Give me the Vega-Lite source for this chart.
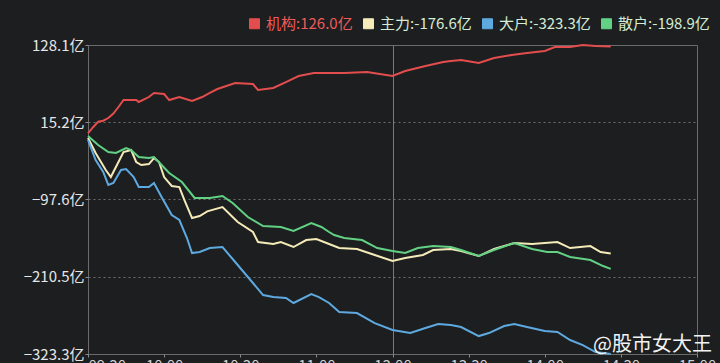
{
  "$schema": "https://vega.github.io/schema/vega-lite/v6.json",
  "width": 609,
  "height": 309,
  "autosize": {"type": "none"},
  "padding": {"left": 88, "top": 45, "right": 23, "bottom": 9},
  "background": "#1c1e1f",
  "config": {
    "view": {"stroke": "#6b6b6b", "strokeWidth": 1},
    "font": "Noto Sans CJK SC"
  },
  "datasets": {
    "flows": [
      {"s": "机构", "m": 0, "v": -0.9}, {"s": "机构", "m": 2, "v": 8}, {"s": "机构", "m": 4, "v": 16.0}, {"s": "机构", "m": 6, "v": 17.5}, {"s": "机构", "m": 8, "v": 21.4}, {"s": "机构", "m": 10, "v": 28}, {"s": "机构", "m": 12, "v": 37.5}, {"s": "机构", "m": 14, "v": 47.7}, {"s": "机构", "m": 19, "v": 47.7}, {"s": "机构", "m": 20, "v": 44.8}, {"s": "机构", "m": 24, "v": 52.1}, {"s": "机构", "m": 26, "v": 58.0}, {"s": "机构", "m": 30, "v": 56.5}, {"s": "机构", "m": 32, "v": 47.7}, {"s": "机构", "m": 36, "v": 52.1}, {"s": "机构", "m": 41, "v": 46.3}, {"s": "机构", "m": 45, "v": 52.1}, {"s": "机构", "m": 48, "v": 58.0}, {"s": "机构", "m": 51, "v": 63.8}, {"s": "机构", "m": 58, "v": 72.6}, {"s": "机构", "m": 65, "v": 71.1}, {"s": "机构", "m": 67, "v": 62.4}, {"s": "机构", "m": 73, "v": 65.3}, {"s": "机构", "m": 78, "v": 74.0}, {"s": "机构", "m": 83, "v": 82.8}, {"s": "机构", "m": 89, "v": 87.2}, {"s": "机构", "m": 95, "v": 87.2}, {"s": "机构", "m": 101, "v": 87.2}, {"s": "机构", "m": 110, "v": 88.7}, {"s": "机构", "m": 115, "v": 85.7}, {"s": "机构", "m": 120, "v": 82.8}, {"s": "机构", "m": 125, "v": 90.1}, {"s": "机构", "m": 133, "v": 97.4}, {"s": "机构", "m": 140, "v": 103.3}, {"s": "机构", "m": 143, "v": 104.7}, {"s": "机构", "m": 147, "v": 106.2}, {"s": "机构", "m": 154, "v": 101.8}, {"s": "机构", "m": 160, "v": 109.1}, {"s": "机构", "m": 167, "v": 113.5}, {"s": "机构", "m": 173, "v": 116.4}, {"s": "机构", "m": 180, "v": 119.3}, {"s": "机构", "m": 184, "v": 125.2}, {"s": "机构", "m": 190, "v": 125.2}, {"s": "机构", "m": 195, "v": 128.1}, {"s": "机构", "m": 200, "v": 126.8}, {"s": "机构", "m": 206, "v": 126.0},

      {"s": "主力", "m": 0, "v": -7.8}, {"s": "主力", "m": 3, "v": -29.7}, {"s": "主力", "m": 7, "v": -54.5}, {"s": "主力", "m": 9, "v": -64.8}, {"s": "主力", "m": 11, "v": -50.1}, {"s": "主力", "m": 14, "v": -28.2}, {"s": "主力", "m": 17, "v": -25.3}, {"s": "主力", "m": 19, "v": -42.8}, {"s": "主力", "m": 21, "v": -47.2}, {"s": "主力", "m": 24, "v": -45.8}, {"s": "主力", "m": 26, "v": -37.0}, {"s": "主力", "m": 28, "v": -42.8}, {"s": "主力", "m": 30, "v": -64.8}, {"s": "主力", "m": 33, "v": -77.9}, {"s": "主力", "m": 36, "v": -79.4}, {"s": "主力", "m": 38, "v": -98.4}, {"s": "主力", "m": 41, "v": -124.7}, {"s": "主力", "m": 44, "v": -121.7}, {"s": "主力", "m": 47, "v": -115.0}, {"s": "主力", "m": 53, "v": -108.6}, {"s": "主力", "m": 59, "v": -130.5}, {"s": "主力", "m": 65, "v": -145.1}, {"s": "主力", "m": 67, "v": -159.7}, {"s": "主力", "m": 73, "v": -162.6}, {"s": "主力", "m": 76, "v": -159.7}, {"s": "主力", "m": 81, "v": -167.0}, {"s": "主力", "m": 86, "v": -156.8}, {"s": "主力", "m": 90, "v": -155.3}, {"s": "主力", "m": 95, "v": -162.6}, {"s": "主力", "m": 99, "v": -168.5}, {"s": "主力", "m": 106, "v": -170.0}, {"s": "主力", "m": 113, "v": -178.7}, {"s": "主力", "m": 120, "v": -187.5}, {"s": "主力", "m": 125, "v": -183.1}, {"s": "主力", "m": 132, "v": -178.7}, {"s": "主力", "m": 136, "v": -171.4}, {"s": "主力", "m": 143, "v": -170.0}, {"s": "主力", "m": 147, "v": -172.9}, {"s": "主力", "m": 154, "v": -180.2}, {"s": "主力", "m": 160, "v": -170.0}, {"s": "主力", "m": 168, "v": -161.2}, {"s": "主力", "m": 175, "v": -162.6}, {"s": "主力", "m": 180, "v": -161.2}, {"s": "主力", "m": 185, "v": -159.7}, {"s": "主力", "m": 190, "v": -168.5}, {"s": "主力", "m": 198, "v": -165.6}, {"s": "主力", "m": 202, "v": -174.3}, {"s": "主力", "m": 206, "v": -176.6},

      {"s": "大户", "m": 0, "v": -10.7}, {"s": "大户", "m": 3, "v": -39.9}, {"s": "大户", "m": 6, "v": -57.4}, {"s": "大户", "m": 8, "v": -76.4}, {"s": "大户", "m": 10, "v": -73.5}, {"s": "大户", "m": 13, "v": -54.5}, {"s": "大户", "m": 15, "v": -53.1}, {"s": "大户", "m": 18, "v": -64.8}, {"s": "大户", "m": 20, "v": -79.4}, {"s": "大户", "m": 24, "v": -79.4}, {"s": "大户", "m": 26, "v": -73.5}, {"s": "大户", "m": 29, "v": -94.0}, {"s": "大户", "m": 33, "v": -120.3}, {"s": "大户", "m": 36, "v": -127.6}, {"s": "大户", "m": 39, "v": -153.9}, {"s": "大户", "m": 41, "v": -175.8}, {"s": "大户", "m": 44, "v": -174.3}, {"s": "大户", "m": 48, "v": -168.5}, {"s": "大户", "m": 53, "v": -167.0}, {"s": "大户", "m": 58, "v": -188.9}, {"s": "大户", "m": 63, "v": -210.8}, {"s": "大户", "m": 69, "v": -237.2}, {"s": "大户", "m": 73, "v": -240.1}, {"s": "大户", "m": 78, "v": -241.5}, {"s": "大户", "m": 81, "v": -248.8}, {"s": "大户", "m": 88, "v": -235.7}, {"s": "大户", "m": 91, "v": -240.1}, {"s": "大户", "m": 95, "v": -248.8}, {"s": "大户", "m": 99, "v": -262.0}, {"s": "大户", "m": 106, "v": -263.5}, {"s": "大户", "m": 113, "v": -278.1}, {"s": "大户", "m": 120, "v": -288.3}, {"s": "大户", "m": 127, "v": -292.7}, {"s": "大户", "m": 133, "v": -285.4}, {"s": "大户", "m": 138, "v": -279.5}, {"s": "大户", "m": 143, "v": -281.0}, {"s": "大户", "m": 147, "v": -283.9}, {"s": "大户", "m": 154, "v": -297.1}, {"s": "大户", "m": 158, "v": -292.7}, {"s": "大户", "m": 164, "v": -282.4}, {"s": "大户", "m": 168, "v": -279.5}, {"s": "大户", "m": 173, "v": -283.9}, {"s": "大户", "m": 180, "v": -289.8}, {"s": "大户", "m": 185, "v": -291.2}, {"s": "大户", "m": 190, "v": -302.9}, {"s": "大户", "m": 195, "v": -310.2}, {"s": "大户", "m": 200, "v": -320.4}, {"s": "大户", "m": 206, "v": -323.3},

      {"s": "散户", "m": 0, "v": -4.9}, {"s": "散户", "m": 4, "v": -18.0}, {"s": "散户", "m": 8, "v": -28.2}, {"s": "散户", "m": 11, "v": -29.7}, {"s": "散户", "m": 15, "v": -22.4}, {"s": "散户", "m": 17, "v": -25.3}, {"s": "散户", "m": 20, "v": -35.5}, {"s": "散户", "m": 24, "v": -37.0}, {"s": "散户", "m": 26, "v": -35.5}, {"s": "散户", "m": 29, "v": -47.2}, {"s": "散户", "m": 32, "v": -58.9}, {"s": "散户", "m": 37, "v": -72.1}, {"s": "散户", "m": 42, "v": -95.4}, {"s": "散户", "m": 48, "v": -95.4}, {"s": "散户", "m": 53, "v": -92.5}, {"s": "散户", "m": 57, "v": -102.7}, {"s": "散户", "m": 63, "v": -123.2}, {"s": "散户", "m": 69, "v": -136.3}, {"s": "散户", "m": 76, "v": -137.8}, {"s": "散户", "m": 81, "v": -143.6}, {"s": "散户", "m": 88, "v": -132.0}, {"s": "散户", "m": 92, "v": -137.8}, {"s": "散户", "m": 95, "v": -145.1}, {"s": "散户", "m": 97, "v": -149.5}, {"s": "散户", "m": 101, "v": -153.9}, {"s": "散户", "m": 108, "v": -156.8}, {"s": "散户", "m": 114, "v": -168.5}, {"s": "散户", "m": 120, "v": -172.9}, {"s": "散户", "m": 125, "v": -175.8}, {"s": "散户", "m": 130, "v": -168.5}, {"s": "散户", "m": 136, "v": -165.6}, {"s": "散户", "m": 143, "v": -167.0}, {"s": "散户", "m": 147, "v": -171.4}, {"s": "散户", "m": 154, "v": -180.2}, {"s": "散户", "m": 160, "v": -171.4}, {"s": "散户", "m": 168, "v": -161.2}, {"s": "散户", "m": 175, "v": -170.0}, {"s": "散户", "m": 181, "v": -174.3}, {"s": "散户", "m": 185, "v": -174.3}, {"s": "散户", "m": 190, "v": -181.6}, {"s": "散户", "m": 198, "v": -186.0}, {"s": "散户", "m": 203, "v": -194.8}, {"s": "散户", "m": 206, "v": -198.9}
    ],
    "mark": [{"label": "@股市女大王"}]
  },
  "layer": [
    {
      "data": {"name": "flows"},
      "mark": {"type": "line", "strokeWidth": 2, "interpolate": "linear"},
      "encoding": {
        "x": {
          "field": "m", "type": "quantitative",
          "scale": {"domain": [0, 240], "nice": false, "zero": false},
          "axis": {
            "title": null,
            "values": [0, 30, 60, 90, 120, 150, 180, 210, 240],
            "labelExpr": "['09:30','10:00','10:30','11:00','13:00','13:30','14:00','14:30','15:00'][datum.value / 30]",
            "labelFlush": false,
            "labelOverlap": false,
            "labelAlign": {"condition": {"test": "datum.value === 0", "value": "left"}, "value": "center"},
            "labelColor": "#d0d0d0",
            "labelFontSize": 15,
            "labelFont": "Noto Sans CJK SC",
            "labelPadding": 1,
            "domain": false,
            "tickSize": 3,
            "tickColor": "#8a8a8a",
            "grid": true,
            "gridColor": "#7a7a7a",
            "gridWidth": 1,
            "gridOpacity": {"condition": {"test": "datum.value === 120", "value": 1}, "value": 0}
          }
        },
        "y": {
          "field": "v", "type": "quantitative",
          "scale": {"domain": [-323.3, 128.1], "nice": false, "zero": false},
          "axis": {
            "title": null,
            "values": [-323.3, -210.5, -97.6, 15.2, 128.1],
            "labelExpr": "format(datum.value, '.1f') + '亿'",
            "labelColor": "#e6e6e6",
            "labelFontSize": 15,
            "labelFont": "Noto Sans CJK SC",
            "labelPadding": 1,
            "labelOverlap": false,
            "labelFlush": false,
            "domain": false,
            "tickSize": 3,
            "tickColor": "#8a8a8a",
            "grid": true,
            "gridColor": "#777777",
            "gridDash": [2, 3],
            "gridOpacity": {"condition": {"test": "datum.value < -323 || datum.value > 128", "value": 0}, "value": 0.9}
          }
        },
        "color": {
          "field": "s", "type": "nominal",
          "scale": {"domain": ["机构", "主力", "大户", "散户"], "range": ["#e44d4d", "#f4ebb8", "#5ea9e0", "#62d184"]},
          "legend": {
            "title": null,
            "orient": "none",
            "direction": "horizontal",
            "legendX": 159,
            "legendY": -29,
            "padding": 0,
            "symbolType": "square",
            "symbolSize": 100,
            "symbolStrokeWidth": 1,
            "symbolOpacity": 1,
            "columnPadding": 8,
            "labelOffset": 4,
            "labelFontSize": 15,
            "labelFont": "Noto Sans CJK SC",
            "labelExpr": "datum.label === '机构' ? '机构:126.0亿' : datum.label === '主力' ? '主力:-176.6亿' : datum.label === '大户' ? '大户:-323.3亿' : '散户:-198.9亿'",
            "encode": {
              "symbols": {"update": {"fill": {"scale": "color", "field": "value"}, "fillOpacity": {"value": 1}}},
              "labels": {"update": {"fill": {"signal": "datum.value === '机构' ? '#ee5a5a' : '#d4ecd6'"}}}
            }
          }
        },
        "order": {"field": "m", "type": "quantitative"}
      }
    },
    {
      "data": {"name": "mark"},
      "mark": {"type": "text", "align": "right", "baseline": "middle", "dx": 15, "dy": -9, "fontSize": 20, "font": "Noto Sans CJK SC", "color": "#f2f2f2"},
      "encoding": {
        "text": {"field": "label"},
        "x": {"datum": 240, "type": "quantitative"},
        "y": {"datum": -323.3, "type": "quantitative"}
      }
    }
  ]
}
